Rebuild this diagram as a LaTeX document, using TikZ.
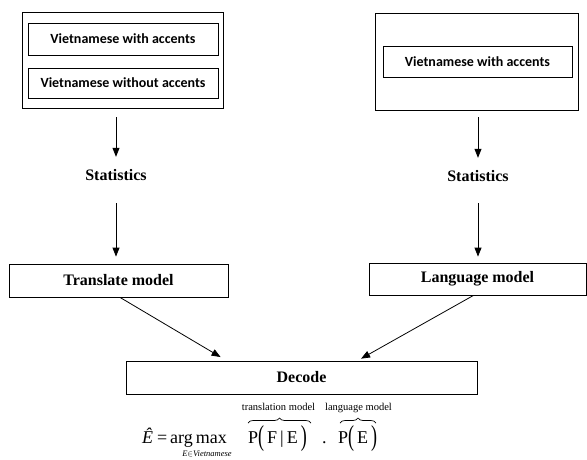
\documentclass[tikz,border=0pt]{standalone}
\usepackage{fontspec}
\usepackage{graphicx}
\setmainfont{Liberation Serif}
\newfontfamily\calib{Carlito}
\usetikzlibrary{arrows.meta,decorations.pathreplacing}
\newcommand\tallL{\raisebox{-2pt}{\scalebox{1}[1.6]{(}}}
\newcommand\tallR{\raisebox{-2pt}{\scalebox{1}[1.6]{)}}}
\tikzset{
  box/.style={draw=black, line width=0.8pt, minimum width=#1, inner sep=0pt},
  cbox/.style={draw=black, line width=0.8pt, inner sep=0pt, font=\calib\bfseries\fontsize{14}{16}\selectfont},
  tbox/.style={draw=black, line width=0.8pt, inner sep=0pt, font=\bfseries\fontsize{16}{18}\selectfont},
  lbl/.style={inner sep=0pt, minimum height=36pt, font=\bfseries\fontsize{16}{18}\selectfont},
  arr/.style={line width=0.8pt, -{Triangle[length=9pt,width=7pt]}},
  fml/.style={inner sep=0pt, anchor=base west, font=\fontsize{18}{20}\selectfont},
  brc/.style={line width=0.7pt, decorate, decoration={brace, amplitude=5pt}},
  small/.style={inner sep=0pt, anchor=base, font=\fontsize{10.5}{12}\selectfont},
}
\begin{document}
\begin{tikzpicture}[x=1pt,y=-1pt]
\useasboundingbox (0,0) rectangle (587,459);
% top left group
\node[box, minimum width=201pt, minimum height=96pt] (lout) at (122.5,60) {};
\node[cbox, minimum width=190pt, minimum height=32pt] (in1) at (123,39) {Vietnamese with accents};
\node[cbox, minimum width=190pt, minimum height=30pt] (in2) at (123,83) {Vietnamese without accents};
% top right group
\node[box, minimum width=203pt, minimum height=97pt] (rout) at (476.5,61.5) {};
\node[cbox, minimum width=189pt, minimum height=31pt] (in3) at (477.5,61.5) {Vietnamese with accents};
% statistics
\node[lbl] (st1) at (116,175) {Statistics};
\node[lbl] (st2) at (478,176) {Statistics};
% models
\node[tbox, minimum width=219pt, minimum height=33pt] (tm) at (118.5,280.5) {Translate model};
\node[tbox, minimum width=217pt, minimum height=32pt] (lm) at (477.5,279) {Language model};
\node[tbox, minimum width=351pt, minimum height=33pt] (dec) at (301.5,377.5) {Decode};
% arrows
\draw[arr, shorten <=9pt] (lout.south -| st1) -- (st1.north);
\draw[arr, shorten <=10pt, shorten >=7pt] (st1.south) -- (st1.south |- tm.north);
\draw[arr, shorten <=7pt] (rout.south -| st2) -- (st2.north);
\draw[arr, shorten <=9pt, shorten >=6pt] (st2.south) -- (st2.south |- lm.north);
\draw[arr, shorten >=7pt] ([xshift=1.5pt]tm.south) -- ([xshift=101pt]dec.north west);
\draw[arr, shorten >=4pt] ([xshift=-4pt]lm.south) -- ([xshift=232pt]dec.north west);
% formula
\node[fml] (eh) at (142,443) {\textit{Ê}};
\node[fml] (eq) at (157,443) {=};
\node[fml] (am) at (170,443) {arg\,max};
\node[fml] (pfe) at (248,443) {P\tallL\,F\,|\,E\,\tallR};
\node[fml] (dt) at (322,443) {.};
\node[fml] (pe) at (338,443) {P\tallL\,E\,\tallR};
\node[inner sep=0pt, anchor=base, font=\fontsize{8.5}{10}\selectfont] (sub) at (207,456) {\textit{E}$\in$\textit{Vietnamese}};
\coordinate (b1a) at (248,423);
\coordinate (b1b) at (311,423);
\coordinate (b2a) at (340,423);
\coordinate (b2b) at (376,423);
\draw[brc] (b1a) -- (b1b);
\draw[brc] (b2a) -- (b2b);
\node[small] (tml) at (278.5,410) {translation model};
\node[small] (lml) at (358.5,410) {language model};
\end{tikzpicture}
\end{document}
